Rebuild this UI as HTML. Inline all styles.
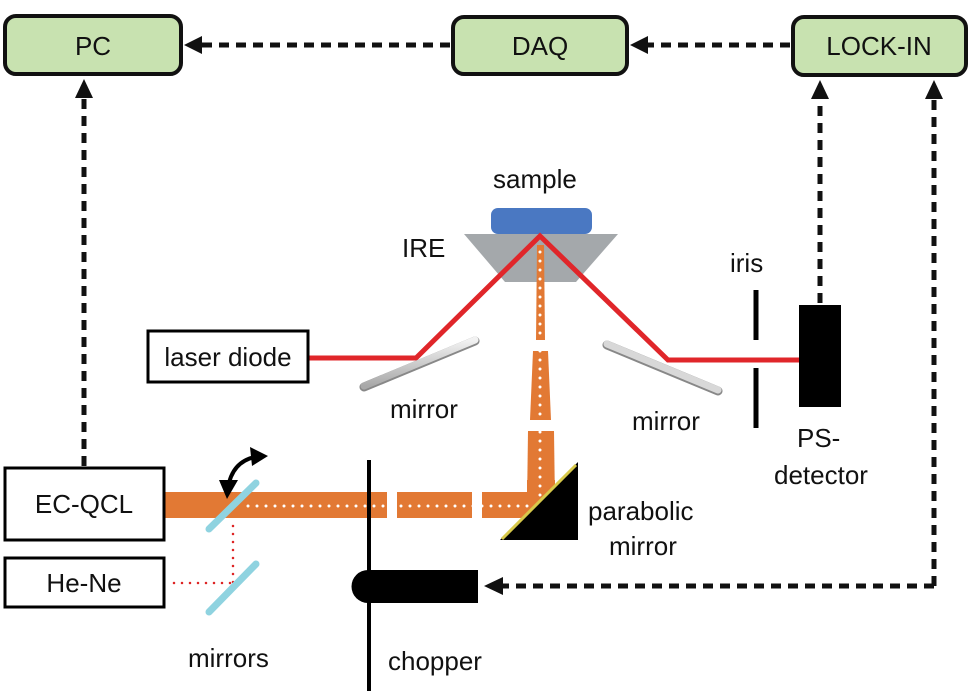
<!DOCTYPE html>
<html><head><style>
html,body{margin:0;padding:0;background:#fff;}
svg{display:block;}
text{font-family:"Liberation Sans",sans-serif;font-size:26px;fill:#111;}
</style></head><body>
<svg width="971" height="691" viewBox="0 0 971 691" xmlns="http://www.w3.org/2000/svg">
<defs>
<linearGradient id="mg" x1="0" y1="0" x2="0" y2="1">
<stop offset="0" stop-color="#f2f2f2"/><stop offset="1" stop-color="#a8a8a8"/>
</linearGradient>
</defs>
<rect x="5" y="16" width="176" height="58" rx="11" fill="#c8e2b0" stroke="#111" stroke-width="4"/>
<text x="93" y="55" text-anchor="middle">PC</text>
<rect x="453" y="17" width="174" height="57" rx="11" fill="#c8e2b0" stroke="#111" stroke-width="4"/>
<text x="540" y="55" text-anchor="middle">DAQ</text>
<rect x="793" y="17" width="173" height="58" rx="11" fill="#c8e2b0" stroke="#111" stroke-width="4"/>
<text x="879" y="55" text-anchor="middle">LOCK-IN</text>
<g stroke="#111" stroke-width="5" stroke-dasharray="10,7" fill="none">
<line x1="450" y1="45" x2="200" y2="45"/>
<line x1="790" y1="45" x2="645" y2="45"/>
<line x1="84" y1="466" x2="84" y2="97"/>
<line x1="820" y1="303" x2="820" y2="100"/>
<line x1="934" y1="586" x2="934" y2="100"/>
<line x1="934" y1="586" x2="503" y2="586"/>
</g>
<g fill="#111">
<polygon points="184,45 202,36 202,54"/>
<polygon points="630,45 648,36 648,54"/>
<polygon points="84,79 75,98 93,98"/>
<polygon points="820,80 811,99 829,99"/>
<polygon points="934,80 925,99 943,99"/>
<polygon points="484,586 503,577 503,595"/>
</g>
<rect x="491" y="208" width="101" height="26" rx="7" fill="#4a78c2"/>
<polygon points="464,234 618,234 576,282 505,282" fill="#a4a8ab"/>
<polygon points="537,245 544,245 545,340 536,340" fill="#e27934"/>
<polygon points="533,351 548,351 551,420 530,420" fill="#e27934"/>
<polygon points="528,431 554,431 555,505 527,505" fill="#e27934"/>
<rect x="165" y="492" width="222" height="26" fill="#e27934"/>
<rect x="397" y="492" width="75" height="26" fill="#e27934"/>
<rect x="482" y="492" width="60" height="26" fill="#e27934"/>
<rect x="527" y="480" width="28" height="20" fill="#e27934"/>
<g stroke="#fff" stroke-width="3" stroke-linecap="round" stroke-dasharray="0,9" fill="none">
<line x1="540" y1="252" x2="540" y2="505"/>
<line x1="248" y1="506" x2="540" y2="506"/>
</g>
<polygon points="500,540 578,462 578,540" fill="#000"/>
<line x1="502" y1="539" x2="576" y2="465" stroke="#d7c84a" stroke-width="3"/>
<polyline points="308,358 416,358 540,236 668,360 800,360" fill="none" stroke="#e0262a" stroke-width="5" stroke-linejoin="miter"/>
<line x1="364" y1="387" x2="475" y2="341" stroke="#888" stroke-width="9" stroke-linecap="round"/>
<line x1="364" y1="386" x2="475" y2="340" stroke="url(#mg)" stroke-width="7" stroke-linecap="round"/>
<line x1="607" y1="345" x2="718" y2="391" stroke="#888" stroke-width="9" stroke-linecap="round"/>
<line x1="607" y1="344" x2="718" y2="390" stroke="#d8d8d8" stroke-width="7" stroke-linecap="round"/>
<line x1="756" y1="290" x2="756" y2="340" stroke="#000" stroke-width="5"/>
<line x1="756" y1="368" x2="756" y2="428" stroke="#000" stroke-width="5"/>
<rect x="799" y="305" width="42" height="102" fill="#000"/>
<rect x="148" y="331" width="160" height="51" fill="#fff" stroke="#000" stroke-width="3"/>
<text x="228" y="366" text-anchor="middle">laser diode</text>
<rect x="5" y="468" width="159" height="72" fill="#fff" stroke="#000" stroke-width="3"/>
<text x="84" y="513" text-anchor="middle">EC-QCL</text>
<rect x="5" y="558" width="159" height="49" fill="#fff" stroke="#000" stroke-width="3"/>
<text x="84" y="592" text-anchor="middle">He-Ne</text>
<g stroke="#d22" stroke-width="2.5" stroke-linecap="round" stroke-dasharray="0,8" fill="none">
<line x1="233" y1="526" x2="233" y2="583"/>
<line x1="174" y1="583" x2="233" y2="583"/>
</g>
<line x1="209" y1="529" x2="256" y2="483" stroke="#8fd3e0" stroke-width="7" stroke-linecap="round"/>
<line x1="209" y1="612" x2="256" y2="564" stroke="#8fd3e0" stroke-width="7" stroke-linecap="round"/>
<path d="M228,488 Q232,462 255,457" fill="none" stroke="#000" stroke-width="4"/>
<polygon points="219,480 238,480 227,499" fill="#000"/>
<polygon points="250,447 268,456 252,466" fill="#000"/>
<line x1="369" y1="460" x2="369" y2="691" stroke="#000" stroke-width="4"/>
<path d="M368,570 L478,570 L478,603 L368,603 A16.5,16.5 0 0 1 368,570 Z" fill="#000"/>
<text x="493" y="188">sample</text>
<text x="402" y="257">IRE</text>
<text x="730" y="272">iris</text>
<text x="390" y="418">mirror</text>
<text x="632" y="430">mirror</text>
<text x="797" y="447">PS-</text>
<text x="774" y="484">detector</text>
<text x="588" y="520">parabolic</text>
<text x="609" y="555">mirror</text>
<text x="188" y="667">mirrors</text>
<text x="388" y="670">chopper</text>
</svg>
</body></html>
